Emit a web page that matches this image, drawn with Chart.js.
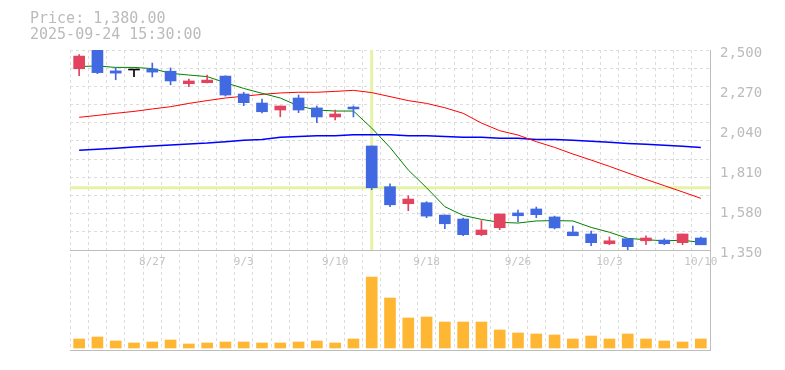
<!DOCTYPE html>
<html>
<head>
<meta charset="utf-8">
<title>Price chart</title>
<script src="https://cdn.jsdelivr.net/npm/chart.js@4.4.1/dist/chart.umd.min.js"></script>
<style>
  body{margin:0;background:#fff;}
  .wrap{position:relative;width:785px;height:370px;}
  #myChart{display:block;}
  #info{position:absolute;left:30px;top:10px;font:15px/16px "DejaVu Sans Mono",monospace;color:#bbb;white-space:pre;}
</style>
</head>
<body>
<div class="wrap">
  <canvas id="myChart" width="785" height="370"></canvas>
  <div id="info">Price: 1,380.00
2025-09-24 15:30:00</div>
</div>
<script>
//data area
const dates = ['8/21','8/22','8/25','8/26','8/27','8/28','8/29','9/1','9/2','9/3',
  '9/4','9/5','9/8','9/9','9/10','9/11','9/12','9/16','9/17','9/18',
  '9/19','9/22','9/24','9/25','9/26','9/29','9/30','10/1','10/2','10/3',
  '10/6','10/7','10/8','10/9','10/10'];

const opens  = [2392,2500,2380,2385,2391,2378,2306,2312,2350,2247,2195,2155,2224,2167,2115,2172,1948,1714,1616,1622,1551,1528,1438,1478,1563,1586,1540,1453,1442,1386,1415,1403,1407,1392,1419];
const highs  = [2473,2500,2400,2385,2425,2397,2333,2356,2352,2257,2218,2178,2241,2178,2155,2178,1948,1730,1662,1628,1551,1534,1519,1557,1580,1597,1545,1488,1459,1425,1415,1432,1415,1442,1425];
const lows   = [2352,2364,2329,2347,2345,2300,2289,2310,2235,2180,2138,2116,2140,2082,2098,2115,1697,1599,1576,1536,1473,1432,1432,1467,1513,1536,1471,1432,1375,1380,1350,1380,1380,1380,1380];
const closes = [2465,2370,2367,2385,2373,2322,2322,2327,2241,2197,2145,2178,2155,2115,2132,2161,1708,1610,1643,1545,1501,1438,1465,1557,1547,1553,1477,1432,1392,1403,1369,1419,1386,1442,1380];

// moving averages (green / red / blue)
const ma5  = [2405,2408,2400,2400,2393,2366,2356,2347,2312,2279,2251,2224,2178,2155,2149,2149,2051,1940,1810,1708,1599,1549,1526,1509,1505,1517,1519,1517,1480,1452,1417,1409,1403,1406,1394];
const ma25 = [2113,2124,2136,2147,2161,2174,2193,2209,2224,2234,2245,2253,2257,2257,2262,2268,2255,2232,2209,2193,2168,2136,2080,2036,2011,1973,1940,1902,1867,1831,1793,1756,1720,1684,1647];
const ma75 = [1923,1929,1935,1942,1948,1954,1960,1965,1973,1981,1986,1998,2002,2007,2007,2013,2013,2013,2007,2007,2002,1998,1998,1992,1992,1986,1986,1981,1975,1969,1963,1958,1952,1946,1940];

const volumes = [90000,110000,70000,50000,60000,80000,40000,50000,60000,60000,50000,50000,60000,70000,50000,90000,710000,500000,300000,310000,260000,260000,260000,180000,150000,140000,130000,90000,120000,90000,140000,90000,70000,60000,90000];

const priceTicks = [1350,1580,1810,2040,2270,2500];
const priceMin = 1350, priceMax = 2500, gridSteps = 11;
const crossIndex = 16, crossPrice = 1708;

//colors
const upColor = '#e2435f';
const downColor = '#4169e1';
const evenColor = '#000000';
const gridColor = '#dcdcdc';
const axisColor = '#bdbdbd';

function candleColor(i){
  if(closes[i] > opens[i]) return upColor;
  if(closes[i] < opens[i]) return downColor;
  return evenColor;
}

//start crosshair + x labels plugin
const extraDraw = {
  id: 'extraDraw',
  beforeDatasetsDraw(chart){
    const {ctx, chartArea, scales} = chart;
    const x = scales.x, y = scales.y;
    const px = x.getPixelForValue(crossIndex);
    const py = y.getPixelForValue(crossPrice);
    ctx.save();
    ctx.strokeStyle = '#e4f3a6';
    ctx.lineWidth = 3;
    ctx.beginPath();
    ctx.moveTo(chartArea.left, py);
    ctx.lineTo(chartArea.right, py);
    ctx.moveTo(px, y.top);
    ctx.lineTo(px, y.bottom);
    ctx.stroke();
    //panel divider
    ctx.strokeStyle = axisColor;
    ctx.lineWidth = 1;
    ctx.beginPath();
    ctx.moveTo(chartArea.left, y.bottom + 0.5);
    ctx.lineTo(chartArea.right, y.bottom + 0.5);
    ctx.stroke();
    ctx.restore();
  },
  afterDraw(chart){
    const {ctx, scales} = chart;
    const x = scales.x, y = scales.y;
    ctx.save();
    ctx.font = '11px "DejaVu Sans Mono", monospace';
    ctx.fillStyle = '#c4c4c4';
    ctx.textAlign = 'center';
    ctx.textBaseline = 'middle';
    dates.forEach(function(d, i){
      if(i % 5 === 4){
        ctx.fillText(d, x.getPixelForValue(i), y.bottom + 12);
      }
    });
    ctx.restore();
  }
};
//end plugin

const ctx = document.getElementById('myChart');

new Chart(ctx, {
  type: 'bar',
  data: {
    labels: dates,
    datasets: [
      {
        label: 'wick',
        data: dates.map((d, i) => [lows[i], highs[i]]),
        yAxisID: 'y',
        backgroundColor: c => candleColor(c.dataIndex),
        barThickness: 1,
        grouped: false,
        order: 2
      },
      {
        label: 'body',
        data: dates.map((d, i) => [opens[i], closes[i]]),
        yAxisID: 'y',
        backgroundColor: c => candleColor(c.dataIndex),
        barThickness: 11,
        minBarLength: 1,
        grouped: false,
        order: 1
      },
      {
        type: 'line',
        label: 'MA5',
        data: ma5,
        yAxisID: 'y',
        borderColor: '#008000',
        borderWidth: 1,
        pointRadius: 0,
        order: 5
      },
      {
        type: 'line',
        label: 'MA25',
        data: ma25,
        yAxisID: 'y',
        borderColor: '#ff0000',
        borderWidth: 1,
        pointRadius: 0,
        order: 5
      },
      {
        type: 'line',
        label: 'MA75',
        data: ma75,
        yAxisID: 'y',
        borderColor: '#0000ff',
        borderWidth: 1.5,
        pointRadius: 0,
        order: 5
      },
      {
        label: 'Volume',
        data: volumes,
        yAxisID: 'yv',
        backgroundColor: '#ffb733',
        barThickness: 11,
        grouped: false,
        order: 3
      }
    ]
  },
  options: {
    responsive: false,
    animation: false,
    layout: { padding: { left: 70, top: 50, right: 0, bottom: 20 } },
    plugins: {
      legend: { display: false },
      tooltip: { enabled: false }
    },
    scales: {
      x: {
        offset: true,
        grid: { offset: true, color: gridColor, drawTicks: false },
        border: { display: true, color: axisColor, width: 1, dash: [3, 3] },
        ticks: { display: false },
        afterFit: s => { s.height = 0; }
      },
      y: {
        position: 'right',
        stack: 'panel',
        stackWeight: 2,
        min: priceMin,
        max: priceMax,
        afterBuildTicks: function(scale){
          var t = [];
          for(var i = 0; i <= gridSteps; i++){
            t.push({ value: priceMin + i * (priceMax - priceMin) / gridSteps, grid: true });
          }
          priceTicks.forEach(v => t.push({ value: v, label: true }));
          scale.ticks = t;
        },
        grid: {
          drawTicks: false,
          color: c => (c.tick && c.tick.grid) ? gridColor : 'rgba(0,0,0,0)'
        },
        border: { display: true, color: axisColor, width: 1, dash: [3, 3] },
        ticks: {
          autoSkip: false,
          padding: 10,
          labelOffset: 3,
          color: '#bbbbbb',
          font: { family: '"DejaVu Sans Mono", monospace', size: 14 },
          callback: function(value, index, ticks){
            return ticks[index].label ? value.toLocaleString('en-US') : '';
          }
        },
        afterFit: s => { s.width = 75; }
      },
      yv: {
        position: 'right',
        stack: 'panel',
        stackWeight: 1,
        min: -20000,
        max: 980000,
        grid: { display: false },
        border: { display: true, color: axisColor, width: 1 },
        ticks: { display: false },
        afterFit: s => { s.width = 75; }
      }
    }
  },
  plugins: [extraDraw]
});
</script>
</body>
</html>
